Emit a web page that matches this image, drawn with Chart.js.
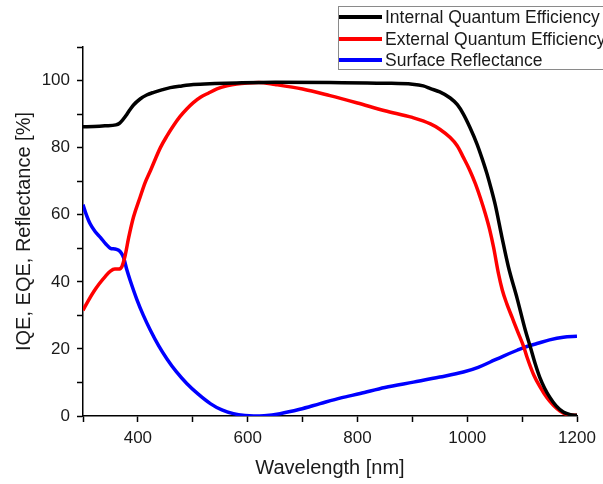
<!DOCTYPE html>
<html>
<head>
<meta charset="utf-8">
<script src="https://cdn.jsdelivr.net/npm/chart.js@4"></script>
<style>
  html, body { margin: 0; padding: 0; background: #fff; }
  #wrap { width: 603px; height: 484px; }
</style>
</head>
<body>
<div id="wrap"><canvas id="chart" width="603" height="484"></canvas></div>
<script>
// wavelengths (nm) and values (%)
var iqeX = [300, 320, 340, 360, 366, 372, 378, 385, 392, 404, 416, 429, 445, 459, 480, 501, 540, 580, 650, 750, 850, 900, 920, 933, 950, 969, 982, 993, 1005, 1018, 1027, 1036, 1044, 1051, 1063, 1075, 1091, 1106, 1115, 1124, 1132, 1141, 1150, 1162, 1175, 1188, 1200];
var iqeY = [86.2, 86.3, 86.5, 86.8, 87.2, 88.2, 89.5, 91.2, 92.7, 94.5, 95.7, 96.5, 97.3, 97.9, 98.4, 98.8, 99.1, 99.3, 99.5, 99.4, 99.2, 98.9, 98.4, 97.6, 96.6, 94.8, 92.8, 90, 86, 81, 76.8, 72.2, 67.5, 63, 53.5, 44.5, 35, 25.5, 20.6, 15.5, 11.6, 8.3, 5.7, 3, 1.2, 0.4, 0.2];

var eqeX = [300, 310, 320, 330, 340, 350, 358, 365, 371, 377, 383, 392, 404, 413, 423, 441, 453, 465, 477, 489, 501, 514, 529, 544, 562, 580, 600, 620, 650, 700, 750, 800, 850, 900, 933, 950, 969, 982, 993, 1004, 1015, 1024, 1033, 1041, 1048, 1057, 1064, 1072, 1082, 1091, 1103, 1109, 1121, 1133, 1145, 1157, 1169, 1181, 1200];
var eqeY = [31.5, 34.5, 37.2, 39.5, 41.5, 43.2, 43.8, 43.8, 44.6, 48, 53, 59.3, 65.2, 69.5, 73.2, 80, 83.5, 86.6, 89.3, 91.5, 93.4, 95, 96.3, 97.5, 98.4, 99, 99.3, 99.4, 98.8, 97.5, 95.5, 93.3, 91, 89, 87.1, 85.5, 83, 80.5, 77.1, 73.5, 69.2, 65, 60.3, 55.5, 50.3, 42.4, 37.5, 33.5, 29.3, 25.5, 20.6, 17.5, 12.3, 8.6, 5.5, 3.2, 1.5, 0.5, 0.2];

var reflX = [300, 305, 313, 322, 332, 342, 350, 358, 365, 370, 374, 380, 386, 398, 410, 423, 438, 453, 470, 489, 510, 532, 553, 574, 595, 611, 630, 659, 695, 732, 770, 805, 850, 902, 950, 993, 1020, 1042, 1065, 1091, 1110, 1127, 1150, 1175, 1200];
var reflY = [63, 60.5, 57.3, 55, 53.2, 51.2, 50, 49.8, 49.4, 48.5, 47.2, 43.5, 40.4, 34.8, 30, 25.5, 20.9, 17, 13.2, 9.7, 6.5, 3.7, 1.8, 0.7, 0.15, 0, 0.1, 0.7, 2, 3.7, 5.4, 6.7, 8.5, 10.1, 11.6, 13.1, 14.5, 16.1, 17.8, 19.6, 20.8, 21.6, 22.7, 23.5, 23.8];

var seriesNames = ['Internal Quantum Efficiency', 'External Quantum Efficiency', 'Surface Reflectance'];
var seriesColors = ['#000000', '#ff0000', '#0000ff'];

function pts(xs, ys) {
    return xs.map(function (x, i) { return { x: x, y: ys[i] }; });
}

var font = 'Arial, "Liberation Sans", sans-serif';
var textColor = '#1a1a1a';

// legend box drawn on top, partly running off the right edge like the original
var boxLegend = {
    id: 'boxLegend',
    afterDraw: function (chart) {
        var c = chart.ctx;
        c.save();
        c.fillStyle = '#fff';
        c.fillRect(338, 6, 300, 63);
        c.strokeStyle = '#8a8a8a';
        c.lineWidth = 1;
        c.strokeRect(338.5, 6.5, 300, 63);
        c.font = '17.5px ' + font;
        c.textBaseline = 'middle';
        var rows = [17, 39, 60];
        for (var i = 0; i < seriesNames.length; i++) {
            c.strokeStyle = seriesColors[i];
            c.lineWidth = 4;
            c.beginPath();
            c.moveTo(339, rows[i]);
            c.lineTo(382, rows[i]);
            c.stroke();
            c.fillStyle = textColor;
            c.fillText(seriesNames[i], 385, rows[i] + 1);
        }
        c.restore();
    }
};

var ctx = document.getElementById('chart');
var myChart = new Chart(ctx, {
    type: 'line',
    data: {
        datasets: [
            { label: seriesNames[0], data: pts(iqeX, iqeY), borderColor: seriesColors[0] },
            { label: seriesNames[1], data: pts(eqeX, eqeY), borderColor: seriesColors[1] },
            { label: seriesNames[2], data: pts(reflX, reflY), borderColor: seriesColors[2] }
        ]
    },
    options: {
        responsive: false,
        animation: false,
        layout: { padding: { left: 0, right: 26, top: 47, bottom: 0 } },
        elements: {
            point: { radius: 0 },
            line: { borderWidth: 3.5, cubicInterpolationMode: 'monotone', fill: false }
        },
        plugins: { legend: { display: false }, tooltip: { enabled: false } },
        scales: {
            x: {
                type: 'linear',
                min: 300, max: 1200,
                border: { color: '#000', width: 1.5 },
                grid: { drawOnChartArea: false, tickLength: 6, tickColor: '#000', tickWidth: 1.5 },
                ticks: {
                    stepSize: 100, padding: 6, maxRotation: 0, autoSkip: false,
                    color: textColor, font: { family: font, size: 17 },
                    callback: function (v) { return (v % 200 === 0 && v >= 400) ? v : ''; }
                },
                title: {
                    display: true, text: 'Wavelength [nm]', color: textColor,
                    font: { family: font, size: 20 }, padding: { top: 0, bottom: 4 }
                },
                afterFit: function (s) { s.height = 68; }
            },
            y: {
                min: 0, max: 110,
                border: { color: '#000', width: 1.5 },
                grid: { drawOnChartArea: false, tickLength: 6, tickColor: '#000', tickWidth: 1.5 },
                ticks: {
                    stepSize: 10, padding: 7, autoSkip: false,
                    color: textColor, font: { family: font, size: 17 },
                    callback: function (v) { return (v % 20 === 0 && v <= 100) ? v : ''; }
                },
                title: {
                    display: true, text: 'IQE, EQE, Reflectance [%]', color: textColor,
                    font: { family: font, size: 20 }, padding: { top: 12, bottom: 0 }
                },
                afterFit: function (s) { s.width = 83; }
            }
        }
    },
    plugins: [boxLegend]
});
</script>
</body>
</html>
